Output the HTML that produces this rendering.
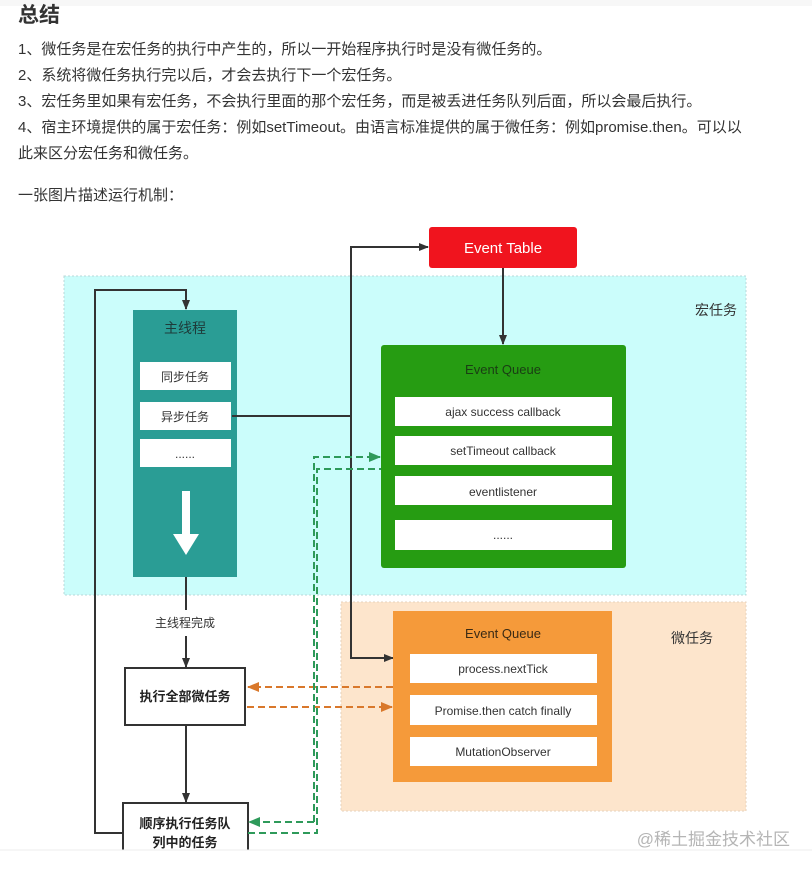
<!DOCTYPE html>
<html><head><meta charset="utf-8">
<style>
html,body{margin:0;padding:0;background:#fff;width:812px;height:870px;overflow:hidden;}
body{position:relative;font-family:"Liberation Sans","Noto Sans CJK SC",sans-serif;color:#333;}
.topband{position:absolute;left:0;top:0;width:812px;height:6px;background:#f7f7f7;}
h2{position:absolute;left:18px;top:2px;margin:0;font-size:21px;font-weight:bold;color:#333;line-height:28px;}
.p{position:absolute;left:18px;font-size:15px;line-height:20px;color:#333;white-space:nowrap;}
svg{position:absolute;left:0;top:0;}
svg text{font-family:"Liberation Sans","Noto Sans CJK SC",sans-serif;}
</style></head><body>
<div class="topband"></div>
<h2>总结</h2>
<div class="p" style="top:40px">1、微任务是在宏任务的执行中产生的，所以一开始程序执行时是没有微任务的。</div>
<div class="p" style="top:66px">2、系统将微任务执行完以后，才会去执行下一个宏任务。</div>
<div class="p" style="top:92px">3、宏任务里如果有宏任务，不会执行里面的那个宏任务，而是被丢进任务队列后面，所以会最后执行。</div>
<div class="p" style="top:118px">4、宿主环境提供的属于宏任务：例如setTimeout。由语言标准提供的属于微任务：例如promise.then。可以以</div>
<div class="p" style="top:144px">此来区分宏任务和微任务。</div>
<div class="p" style="top:186px">一张图片描述运行机制：</div>

<svg width="812" height="870" viewBox="0 0 812 870">
<defs>
<marker id="ad" markerWidth="10" markerHeight="10" refX="9" refY="5" orient="auto" markerUnits="userSpaceOnUse"><path d="M0,1 L10,5 L0,9 z" fill="#333"/></marker>
<marker id="ao" markerWidth="12" markerHeight="10" refX="11" refY="5" orient="auto" markerUnits="userSpaceOnUse"><path d="M0,0 L12,5 L0,10 z" fill="#d9782b"/></marker>
<marker id="ag" markerWidth="12" markerHeight="10" refX="11" refY="5" orient="auto" markerUnits="userSpaceOnUse"><path d="M0,0 L12,5 L0,10 z" fill="#2e9a5a"/></marker>
</defs>
<!-- regions -->
<rect x="64" y="276" width="682" height="319" fill="#cbfdfb" stroke="#b8d8d8" stroke-dasharray="2,2"/>
<rect x="341" y="602" width="405" height="209" fill="#fde5cc" stroke="#e6d2bd" stroke-dasharray="2,2"/>
<text x="695" y="315" font-size="14" fill="#333">宏任务</text>
<text x="671" y="643" font-size="14" fill="#333">微任务</text>

<!-- Event table -->
<rect x="429" y="227" width="148" height="41" rx="3" fill="#f0141e"/>
<text x="503" y="253" font-size="15" fill="#fff" text-anchor="middle">Event Table</text>
<line x1="503" y1="268" x2="503" y2="344" stroke="#333" stroke-width="2" marker-end="url(#ad)"/>

<!-- green queue -->
<rect x="381" y="345" width="245" height="223" rx="3" fill="#269c12"/>
<text x="503" y="374" font-size="13" fill="#1a3d14" text-anchor="middle">Event Queue</text>
<rect x="395" y="397" width="217" height="29" fill="#fff"/>
<text x="503" y="416" font-size="12" fill="#333" text-anchor="middle">ajax success callback</text>
<rect x="395" y="436" width="217" height="29" fill="#fff"/>
<text x="503" y="455" font-size="12" fill="#333" text-anchor="middle">setTimeout callback</text>
<rect x="395" y="476" width="217" height="29" fill="#fff"/>
<text x="503" y="496" font-size="12" fill="#333" text-anchor="middle">eventlistener</text>
<rect x="395" y="520" width="217" height="30" fill="#fff"/>
<text x="503" y="539" font-size="12" fill="#333" text-anchor="middle">......</text>

<!-- main thread -->
<rect x="133" y="310" width="104" height="267" fill="#2a9d95"/>
<text x="185" y="333" font-size="14" fill="#1e3b3a" text-anchor="middle">主线程</text>
<rect x="140" y="362" width="91" height="28" fill="#fff"/>
<text x="185" y="381" font-size="12" fill="#333" text-anchor="middle">同步任务</text>
<rect x="140" y="402" width="91" height="28" fill="#fff"/>
<text x="185" y="421" font-size="12" fill="#333" text-anchor="middle">异步任务</text>
<rect x="140" y="439" width="91" height="28" fill="#fff"/>
<text x="185" y="458" font-size="12" fill="#333" text-anchor="middle">......</text>
<rect x="182" y="491" width="8" height="44" fill="#fff"/>
<path d="M173,534 L199,534 L186,555 z" fill="#fff"/>

<!-- connectors -->
<polyline points="232,416 351,416 351,247 428,247" fill="none" stroke="#333" stroke-width="2" marker-end="url(#ad)"/>
<polyline points="351,416 351,658 393,658" fill="none" stroke="#333" stroke-width="2" marker-end="url(#ad)"/>
<polyline points="123,833 95,833 95,290 186,290 186,309" fill="none" stroke="#333" stroke-width="2" marker-end="url(#ad)"/>
<line x1="186" y1="577" x2="186" y2="610" stroke="#333" stroke-width="2"/>
<text x="185" y="627" font-size="12" fill="#333" text-anchor="middle">主线程完成</text>
<line x1="186" y1="636" x2="186" y2="667" stroke="#333" stroke-width="2" marker-end="url(#ad)"/>
<line x1="186" y1="725" x2="186" y2="802" stroke="#333" stroke-width="2" marker-end="url(#ad)"/>

<rect x="125" y="668" width="120" height="57" fill="#fff" stroke="#333" stroke-width="2"/>
<text x="185" y="701" font-size="13" font-weight="bold" fill="#222" text-anchor="middle">执行全部微任务</text>
<rect x="123" y="803" width="125" height="60" fill="#fff" stroke="#333" stroke-width="2"/>
<text x="185" y="828" font-size="13" font-weight="bold" fill="#222" text-anchor="middle">顺序执行任务队</text>
<text x="185" y="847" font-size="13" font-weight="bold" fill="#222" text-anchor="middle">列中的任务</text>

<!-- orange queue -->
<rect x="393" y="611" width="219" height="171" fill="#f59a3a"/>
<text x="503" y="638" font-size="13" fill="#3a2a14" text-anchor="middle">Event Queue</text>
<rect x="410" y="654" width="187" height="29" fill="#fff"/>
<text x="503" y="673" font-size="12" fill="#333" text-anchor="middle">process.nextTick</text>
<rect x="410" y="695" width="187" height="30" fill="#fff"/>
<text x="503" y="715" font-size="12" fill="#333" text-anchor="middle">Promise.then catch finally</text>
<rect x="410" y="737" width="187" height="29" fill="#fff"/>
<text x="503" y="756" font-size="12" fill="#333" text-anchor="middle">MutationObserver</text>

<!-- orange dashed -->
<line x1="393" y1="687" x2="248" y2="687" stroke="#d9782b" stroke-width="2" stroke-dasharray="7,4" marker-end="url(#ao)"/>
<line x1="247" y1="707" x2="392" y2="707" stroke="#d9782b" stroke-width="2" stroke-dasharray="7,4" marker-end="url(#ao)"/>

<!-- green dashed -->
<polyline points="314,822 314,457 380,457" fill="none" stroke="#2e9a5a" stroke-width="2" stroke-dasharray="7,4" marker-end="url(#ag)"/>
<line x1="314" y1="822" x2="249" y2="822" stroke="#2e9a5a" stroke-width="2" stroke-dasharray="7,4" marker-end="url(#ag)"/>
<polyline points="248,833 317,833 317,469 381,469" fill="none" stroke="#2e9a5a" stroke-width="2" stroke-dasharray="7,4"/>

<text x="790" y="845" font-size="17" fill="#b5b5b5" text-anchor="end">@稀土掘金技术社区</text>
<rect x="0" y="850" width="812" height="20" fill="#fff"/>
<line x1="0" y1="850" x2="812" y2="850" stroke="#eee" stroke-width="1"/>
</svg>
</body></html>
